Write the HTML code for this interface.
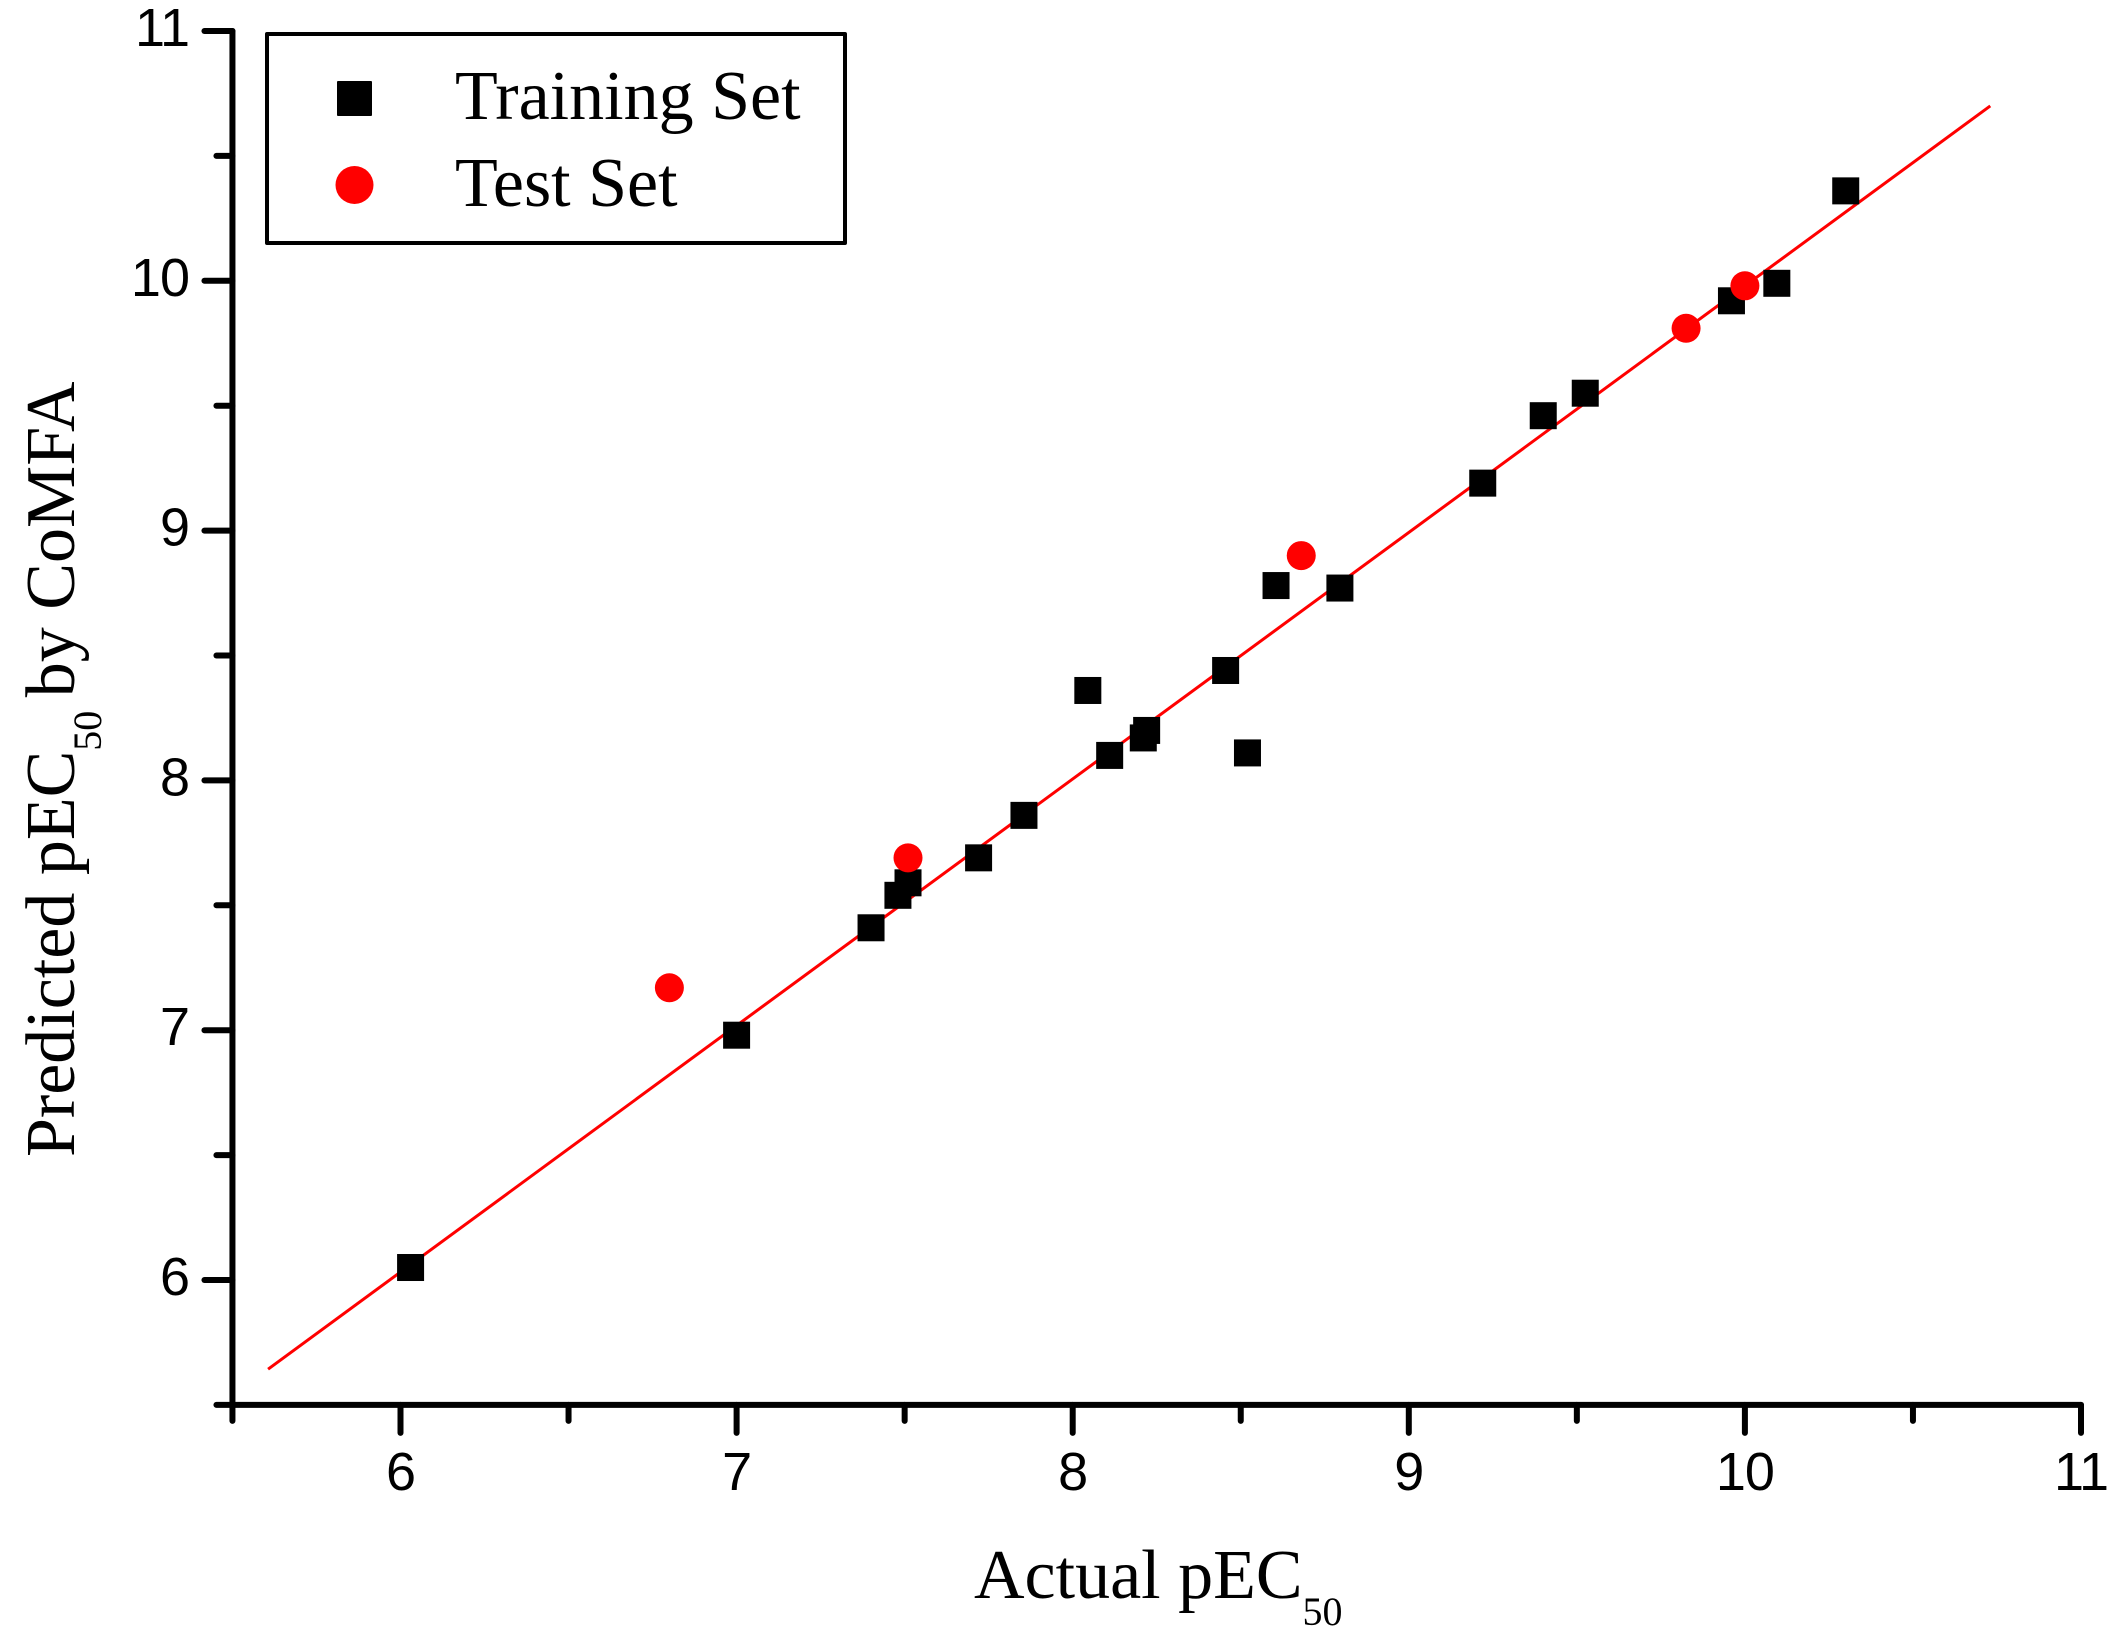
<!DOCTYPE html>
<html>
<head>
<meta charset="utf-8">
<style>
html,body{margin:0;padding:0;background:#fff;}
svg{display:block;}
text{fill:#000;}
.tick{font-family:"Liberation Sans",Arial,sans-serif;font-size:54px;letter-spacing:-1px;}
.serif{font-family:"Liberation Serif","Times New Roman",serif;}
</style>
</head>
<body>
<svg id="chart" width="2120" height="1637" viewBox="0 0 2120 1637" xmlns="http://www.w3.org/2000/svg">
  <rect x="0" y="0" width="2120" height="1637" fill="#fff"/>
  <g id="axes"></g>
  <line id="fit" stroke="#f00" stroke-width="3"/>
  <g id="marks"></g>
  <g>
    <rect x="267" y="34" width="578" height="209" fill="#fff" stroke="#000" stroke-width="4" stroke-linejoin="round"/>
    <rect x="337" y="81" width="35" height="35" rx="1" fill="#000"/>
    <text class="serif" x="455" y="119" font-size="70">Training Set</text>
    <circle cx="354.5" cy="185" r="19" fill="#f00"/>
    <text class="serif" x="455" y="206" font-size="70">Test Set</text>
  </g>
  <text class="serif" x="974" y="1598" font-size="70">Actual pEC<tspan font-size="40" dy="27">50</tspan></text>
  <text class="serif" transform="translate(74,1157) rotate(-90)" x="0" y="0" font-size="70">Predicted pEC<tspan font-size="40" dy="27">50</tspan><tspan dy="-27" dx="-4"> by CoMFA</tspan></text>
</svg>
<script>
var xTickLabels = ["6", "7", "8", "9", "10", "11"];
var yTickLabels = ["6", "7", "8", "9", "10", "11"];
var minorTicks = [5.5, 6.5, 7.5, 8.5, 9.5, 10.5];
var axisMin = [5.5];
var axisMax = [11];
var trainingX = [6.03, 7.00, 7.40, 7.48, 7.51, 7.72, 7.855, 8.045, 8.11, 8.21, 8.22, 8.455, 8.52, 8.605, 8.795, 9.22, 9.40, 9.525, 9.96, 10.095, 10.30];
var trainingY = [6.05, 6.98, 7.41, 7.54, 7.59, 7.69, 7.86, 8.36, 8.10, 8.17, 8.20, 8.44, 8.11, 8.78, 8.77, 9.19, 9.46, 9.55, 9.92, 9.99, 10.36];
var testX = [6.80, 7.51, 8.68, 9.825, 10.00];
var testY = [7.17, 7.69, 8.90, 9.81, 9.98];
var fitX = [5.606, 10.73];
var fitY = [5.643, 10.70];

var NS = 'http://www.w3.org/2000/svg';
function sx(v){ return 400.5 + (v - 6) * 336.1; }
function sy(v){ return 1280 - (v - 6) * 249.8; }
function make(tag, attrs, parent){
  var el = document.createElementNS(NS, tag);
  for (var k in attrs) el.setAttribute(k, attrs[k]);
  parent.appendChild(el);
  return el;
}
var axes = document.getElementById('axes');
var marks = document.getElementById('marks');
var lineStyle = {stroke:'#000','stroke-width':6,'stroke-linecap':'round'};
function axisLine(x1,y1,x2,y2){
  var a = {x1:x1,y1:y1,x2:x2,y2:y2};
  for (var k in lineStyle) a[k] = lineStyle[k];
  return make('line', a, axes);
}
var xAxisLine = axisLine(sx(axisMin[0]), sy(axisMin[0]), sx(axisMax[0]), sy(axisMin[0]));


var yAxisLine = axisLine(sx(axisMin[0]), sy(axisMin[0]), sx(axisMin[0]), sy(axisMax[0]));



xTickLabels.forEach(function(t){
  var v = parseFloat(t);
  var tick = axisLine(sx(v), sy(axisMin[0]), sx(v), sy(axisMin[0]) + 28);
  
  
  var label = make('text', {x:sx(v), y:1490, 'text-anchor':'middle', 'class':'tick'}, axes);
  
  
  label.textContent = t;
});
yTickLabels.forEach(function(t){
  var v = parseFloat(t);
  var tick = axisLine(sx(axisMin[0]) - 28, sy(v), sx(axisMin[0]), sy(v));
  
  
  var label = make('text', {x:189, y:sy(v) + 15, 'text-anchor':'end', 'class':'tick'}, axes);
  
  
  label.textContent = t;
});
minorTicks.forEach(function(v){
  var tx = axisLine(sx(v), sy(axisMin[0]), sx(v), sy(axisMin[0]) + 16);
  
  
  var ty = axisLine(sx(axisMin[0]) - 16, sy(v), sx(axisMin[0]), sy(v));
  
  
});

var fit = document.getElementById('fit');
fit.setAttribute('x1', sx(fitX[0]));
fit.setAttribute('y1', sy(fitY[0]));
fit.setAttribute('x2', sx(fitX[1]));
fit.setAttribute('y2', sy(fitY[1]));

trainingX.forEach(function(x, i){
  var r = make('rect', {x:sx(x) - 13.5, y:sy(trainingY[i]) - 13.5, width:27, height:27, fill:'#000'}, marks);
  
  
});
testX.forEach(function(x, i){
  var c = make('circle', {cx:sx(x), cy:sy(testY[i]), r:14.5, fill:'#f00'}, marks);
  
  
});
</script>
</body>
</html>
